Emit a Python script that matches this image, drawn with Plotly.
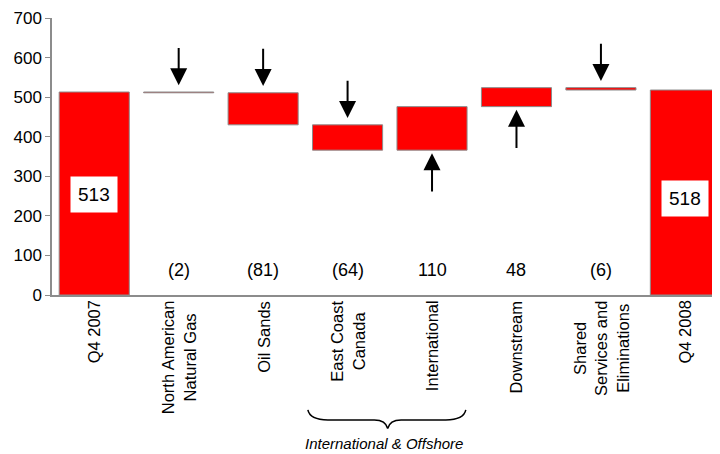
import plotly.graph_objects as go

categories = ["Q4 2007", "North American<br>Natural Gas", "Oil Sands", "East Coast<br>Canada",
              "International", "Downstream", "Shared<br>Services and<br>Eliminations", "Q4 2008"]
values = [513, -2, -81, -64, 110, 48, -6, 518]
measures = ["absolute", "relative", "relative", "relative", "relative", "relative", "relative", "total"]
group_label = "International & Offshore"

RED = "#ff0000"
GRAY = "#8c8c8c"
FONT = "Liberation Sans, Arial, sans-serif"

xs = list(range(len(categories)))
X0, X1 = -0.5, 7.41

fig = go.Figure()
fig.add_trace(go.Waterfall(
    x=xs, y=values, measure=measures, width=0.83,
    increasing=dict(marker=dict(color=RED, line=dict(color=GRAY, width=1))),
    decreasing=dict(marker=dict(color=RED, line=dict(color=GRAY, width=1))),
    totals=dict(marker=dict(color=RED, line=dict(color=GRAY, width=1))),
    connector=dict(visible=False), hoverinfo="skip", textinfo="none",
))

annotations = []
levels = []
cur = 0
for v, m in zip(values, measures):
    if m == "absolute":
        start, cur = 0, v
    elif m == "total":
        start = 0
    else:
        start, cur = cur, cur + v
    levels.append((start, cur))

for i, (v, m) in enumerate(zip(values, measures)):
    if m == "relative":
        txt = f"({abs(v)})" if v < 0 else f"{v}"
        annotations.append(dict(x=i, y=63, xref="x", yref="y", text=txt, showarrow=False,
                                font=dict(size=18, color="black", family=FONT)))
for i, yv in ((0, 255), (7, 245)):
    annotations.append(dict(x=i, y=yv, xref="x", yref="y", text=str(values[i]), showarrow=False,
                            bgcolor="white", borderpad=7, font=dict(size=19, color="black", family=FONT)))

for i, (v, m) in enumerate(zip(values, measures)):
    if m != "relative":
        continue
    top = max(levels[i])
    bot = min(levels[i])
    if v < 0:
        tip, tail = top + 17, top + 115
    else:
        tip, tail = bot - 8, bot - 108
    annotations.append(dict(x=i, y=tip, ax=i, ay=tail, xref="x", yref="y", axref="x", ayref="y",
                            text="", showarrow=True, arrowhead=2, arrowsize=1.7, arrowwidth=2,
                            arrowcolor="black"))

for i, c in enumerate(categories):
    annotations.append(dict(x=i, y=-0.013, xref="x", yref="paper", text=c, showarrow=False,
                            textangle=-90, yanchor="top", xanchor="center", align="center",
                            font=dict(size=16.5, color="black", family=FONT)))

def px(xd):
    return (xd - X0) / (X1 - X0)

annotations.append(dict(x=px(3.43), y=-0.535, xref="paper", yref="paper",
                        text=f"<i>{group_label}</i>", showarrow=False, yanchor="middle",
                        font=dict(size=15, color="black", family=FONT)))

xl, xc, xr = px(2.53), px(3.475), px(4.40)
yt, ym, yb = -0.415, -0.451, -0.482
path = (f"M {xl},{yt} Q {xl+0.003},{ym} {xl+0.03},{ym} L {xc-0.02},{ym} "
        f"Q {xc-0.003},{ym} {xc},{yb} Q {xc+0.003},{ym} {xc+0.02},{ym} "
        f"L {xr-0.03},{ym} Q {xr-0.003},{ym} {xr},{yt}")

fig.update_layout(
    width=712, height=446, margin=dict(l=44, r=0, t=10, b=159),
    paper_bgcolor="white", plot_bgcolor="white", showlegend=False,
    font=dict(family=FONT, color="black"),
    xaxis=dict(range=[X0, X1], showticklabels=False, ticks="", showgrid=False, zeroline=False,
               showline=True, linecolor=GRAY, linewidth=1.5),
    yaxis=dict(range=[0, 700], dtick=100, ticks="outside", ticklen=5, tickcolor=GRAY,
               showgrid=False, zeroline=False, showline=True, linecolor=GRAY, linewidth=1.5,
               tickfont=dict(size=17, color="black", family=FONT)),
    annotations=annotations,
    shapes=[dict(type="path", path=path, xref="paper", yref="paper",
                 line=dict(color="black", width=1.5))],
)

fig.write_html("out.html")
